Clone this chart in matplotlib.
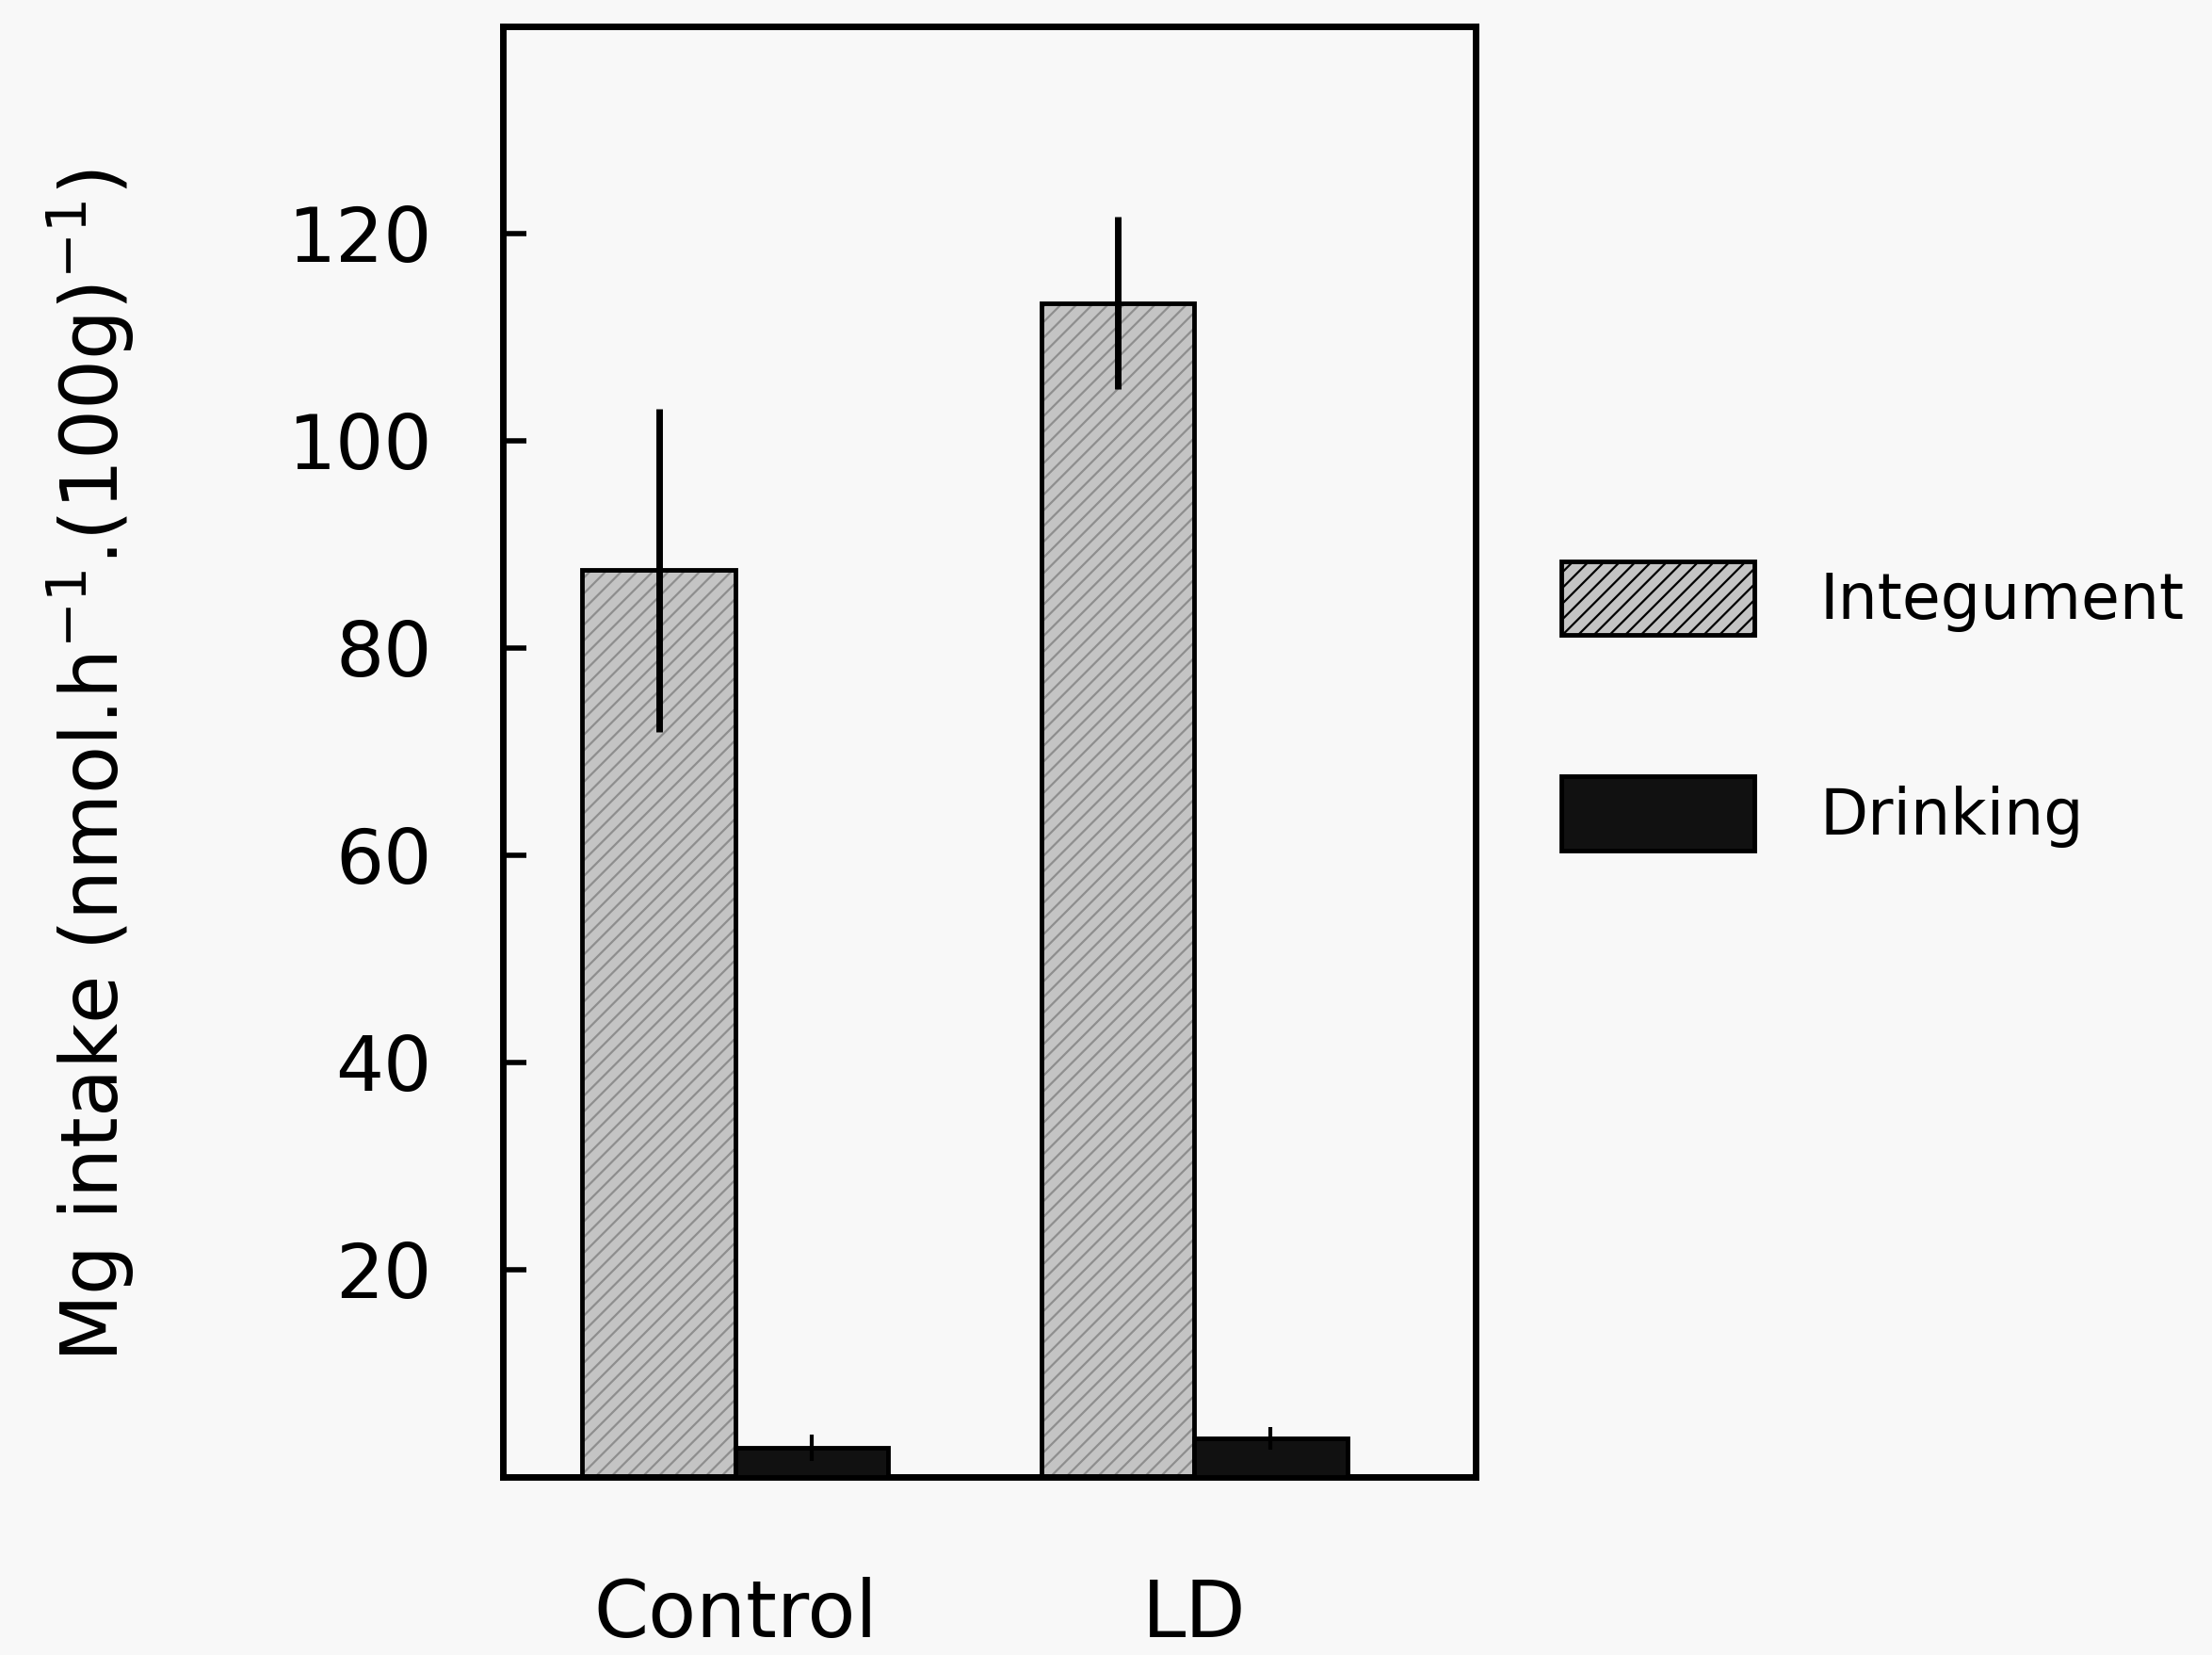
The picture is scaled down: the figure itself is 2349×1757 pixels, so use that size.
import matplotlib
matplotlib.use("Agg")
import matplotlib.pyplot as plt
import numpy as np
from matplotlib.patches import Patch

plt.rcParams['font.family'] = ['DejaVu Sans']
plt.rcParams['mathtext.fontset'] = 'dejavusans'
plt.rcParams['mathtext.default'] = 'regular'
plt.rcParams['hatch.linewidth'] = 1.6

groups = ["Control", "LD"]
series = ["Integument", "Drinking"]
integument = [87.5, 113.3]
integument_err = [15.6, 8.3]
drinking = [2.8, 3.7]
drinking_err = [1.3, 1.1]
yticks = [20, 40, 60, 80, 100, 120]

bg = '#f8f8f8'
face = '#c4c4c4'
hatchc = '#8e8e8e'
fig = plt.figure(figsize=(23.49, 17.57), dpi=100, facecolor=bg)
ax = fig.add_axes([0.2273, 0.1076, 0.4398, 0.8765], facecolor=bg)

x = np.array([0, 3])
w = 1.0
ax.bar(x, integument, width=w, color=face, edgecolor=hatchc, hatch='//', linewidth=0, zorder=2)
ax.bar(x, integument, width=w, fill=False, edgecolor='black', linewidth=3.5, zorder=3)
ax.bar(x + 1, drinking, width=w, color='#111111', edgecolor='black', linewidth=3.5, zorder=3)
ax.errorbar(x, integument, yerr=integument_err, fmt='none', ecolor='black', elinewidth=5, capsize=0, zorder=4)
ax.errorbar(x + 1, drinking, yerr=drinking_err, fmt='none', ecolor='black', elinewidth=3, capsize=0, zorder=4)

ax.set_xlim(-1.02, 5.34)
ax.set_ylim(0, 140)
ax.set_yticks(yticks)
ax.set_yticklabels([str(v) for v in yticks])
ax.set_xticks(x + 0.5)
ax.set_xticklabels(groups)
ax.tick_params(axis='y', direction='in', length=18, width=4, labelsize=58, pad=54)
ax.tick_params(axis='x', length=0, labelsize=60, pad=76)
for s in ax.spines.values():
    s.set_linewidth(5)

fig.text(97 / 2349, 1 - 813 / 1757, "Mg intake (nmol.h$^{-1}$.(100g)$^{-1}$)",
         rotation=90, ha='center', va='center', fontsize=60)

h1 = Patch(facecolor=face, edgecolor='black', hatch='//', linewidth=3.5)
h2 = Patch(facecolor='#111111', edgecolor='black', linewidth=3.5)
fs = 48
fig.legend([h1, h2], series, loc='upper left',
           bbox_to_anchor=(1658 / 2349, 1 - 596 / 1757), frameon=False,
           fontsize=fs, handlelength=3.07, handleheight=1.43,
           labelspacing=2.25, handletextpad=1.05, borderpad=0, borderaxespad=0)

fig.savefig("out.png", dpi=100, facecolor=bg)
